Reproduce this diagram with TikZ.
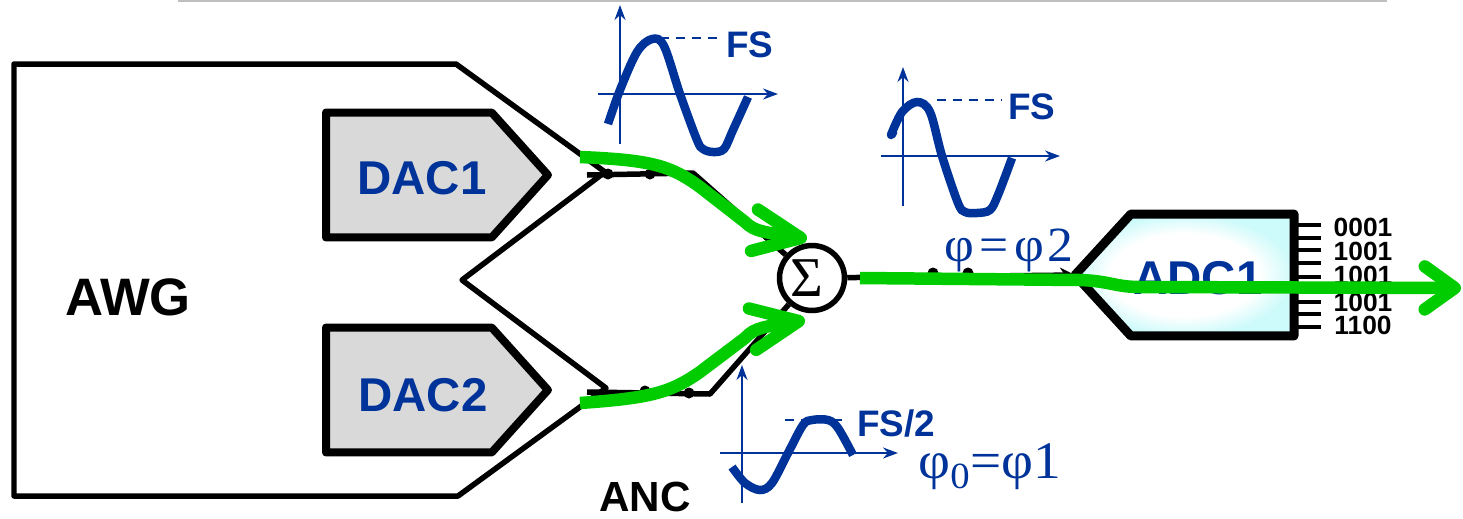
\documentclass[tikz,border=0pt]{standalone}
\usepackage{fontspec}
\setmainfont{Liberation Sans}
\newfontfamily\serifgreek{Liberation Serif}
\newfontfamily\phasefont[FakeStretch=1.05]{Liberation Serif}
\usepackage{xcolor}
\definecolor{ancblue}{RGB}{0,51,153}
\definecolor{ancgreen}{RGB}{0,204,0}
\definecolor{dacgray}{RGB}{217,217,217}
\definecolor{adccyan}{RGB}{205,250,250}
\usetikzlibrary{arrows.meta,shapes.symbols}
\pgfdeclareradialshading{adcglow}{\pgfpointorigin}{color(0bp)=(white); color(17bp)=(white); color(25bp)=(adccyan); color(50bp)=(adccyan)}
\newcommand{\fsz}[1]{\fontsize{#1}{#1}\selectfont}

\begin{document}
\begin{tikzpicture}[
  x=0.02cm,y=-0.02cm,
  wire/.style={line width=0.11cm,line join=round},
  conv/.style={draw,signal,signal to=east,signal pointer angle=96,line width=0.16cm,line join=round,inner sep=0pt,outer sep=0pt,
    minimum width=4.44cm,minimum height=2.5cm,fill=dacgray},
  convtxt/.style={text=ancblue,font=\fsz{27}\bfseries,inner sep=0pt},
  pin/.style={line width=0.08cm},
  bits/.style={font=\fsz{15}\bfseries,inner sep=0pt},
  axisarr/.style={ancblue,line width=0.035cm,-{Stealth[length=0.3cm,width=0.22cm]}},
  wave/.style={ancblue,line width=0.17cm},
  level/.style={ancblue,line width=0.035cm,dash pattern=on 0.18cm off 0.14cm},
  fslabel/.style={text=ancblue,inner sep=0pt},
  phase/.style={text=ancblue,inner sep=0pt},
  dot/.style={circle,fill=black,inner sep=0pt,minimum size=0.22cm},
  sig/.style={ancgreen,line width=0.25cm},
  sigarr/.style={sig,-{Straight Barb[length=0.94cm,width=0.84cm,round]}},
  sigout/.style={sig,-{Straight Barb[length=0.6cm,width=0.86cm,round]}}]
\useasboundingbox (0,0) rectangle (1463,518);
\draw[gray!50,line width=0.07cm] (178,0) -- (1387,0);

\draw[wire] (14,64) -- (456,64) -- (605,172) -- (462,280) -- (606,388) -- (458,496) -- (14,496) -- cycle;
\node[font=\fsz{30}\bfseries,inner sep=0pt] (awg) at (128,297) {AWG};
\node[conv,anchor=west] (dac1) at (326,175) {};
\node[conv,anchor=west] (dac2) at (326,390) {};
\node[convtxt] (dac1txt) at (422,178) {DAC1};
\node[convtxt] (dac2txt) at (423,395) {DAC2};

\node[draw,circle,line width=0.11cm,fill=white,minimum size=1.3cm,inner sep=0pt,font=\serifgreek\fsz{32}] (sum) at (812,278) {Σ\kern 6pt};
\coordinate (in1) at (587,175);
\coordinate (in1b) at (693,173);
\coordinate (in2) at (587,392);
\coordinate (in2b) at (710,394);
\node[dot] (d1) at (608,174) {};
\node[dot] (d2) at (650,174) {};
\node[dot] (d3) at (645,391) {};
\node[dot] (d4) at (689,393) {};
\node[dot] (d5) at (933,273) {};
\node[dot] (d6) at (968,273) {};
\draw[wire] (in1) -- (in1b) -- (sum);
\draw[wire] (in2) -- (in2b) -- (sum);

\node[conv,signal to=west,signal pointer angle=95,line width=0.18cm,anchor=east,minimum width=4.38cm,minimum height=2.44cm,
  shade,shading=adcglow] (adc) at (1294,275) {};
\node[convtxt] (adctxt) at (1198,278) {ADC1};
\draw[wire,-{Stealth[length=0.3cm,width=0.3cm]}] (sum) -- (adc.west);
\foreach \y in {225,238,250,263,277,288,302,314,327}
  \draw[pin] (1296,\y) -- (1321,\y);
\node[bits] (b1) at (1363,227) {0001};
\node[bits] (b2) at (1363,251) {1001};
\node[bits] (b3) at (1363,275) {1001};
\node[bits] (b4) at (1363,302) {1001};
\node[bits] (b5) at (1363,325) {1100};

\coordinate (xa1) at (598,94);
\coordinate (xa2) at (778,94);
\coordinate (ya1) at (620,144);
\coordinate (ya2) at (620,5);
\draw[axisarr] (xa1) -- (xa2);
\draw[axisarr] (ya1) -- (ya2);
\draw[level] (660,38) -- (720,38);
\draw[wave] plot[smooth,tension=0.55] coordinates {(608,124) (620,90) (637,52) (652,39) (664,46) (680,94) (697,140) (703,149) (713,152) (724,149) (733,130) (748,97)};
\node[fslabel,font=\fsz{21}\bfseries] (fs1) at (750,45) {FS};

\coordinate (xb1) at (881,156);
\coordinate (xb2) at (1060,156);
\coordinate (yb1) at (903,206);
\coordinate (yb2) at (903,67);
\draw[axisarr] (xb1) -- (xb2);
\draw[axisarr] (yb1) -- (yb2);
\draw[level] (937,100) -- (1002,100);
\draw[wave,line cap=round] (891,135) -- (893,133);
\draw[wave] plot[smooth,tension=0.55] coordinates {(891,135) (902,112) (917,102) (930,112) (942,156) (958,203) (965,212) (977,213) (990,210) (998,195) (1012,158)};
\node[fslabel,font=\fsz{21}\bfseries] (fs2) at (1032,107) {FS};

\coordinate (xc1) at (720,453);
\coordinate (xc2) at (898,453);
\coordinate (yc1) at (742,503);
\coordinate (yc2) at (742,365);
\draw[axisarr] (xc1) -- (xc2);
\draw[axisarr] (yc1) -- (yc2);
\draw[level] (785,420) -- (848,420);
\draw[wave] plot[smooth,tension=0.55] coordinates {(732,467) (745,483) (760,490) (772,483) (788,453) (803,425) (812,420) (828,420) (838,428) (853,455)};
\node[fslabel,font=\fsz{21}\bfseries] (fs3) at (896,423) {FS/2};

\node[phase,font=\phasefont\fsz{28}] (phi2) at (1009,250) {φ\kern 3pt=\kern 3ptφ\kern 2pt2};
\node[phase,font=\phasefont\fsz{30}] (phi1) at (990,467) {φ\textsubscript{0}=φ1};
\node[font=\fsz{24}\bfseries,inner sep=0pt] (anc) at (645,497) {ANC};

\coordinate (g1) at (580,157);
\coordinate (g2) at (580,403);
\coordinate (g3) at (860,278);
\coordinate (gend) at (1461,288);
\draw[sigarr] (g1) .. controls (650,160) and (670,165) .. (700,187) -- (745,222) .. controls (755,232) and (765,232) .. (807,239);
\draw[sigarr] (g2) .. controls (650,398) and (670,393) .. (700,372) -- (745,338) .. controls (755,327) and (765,327) .. (805,320);
\draw[sigout] (g3) -- (1080,280) .. controls (1110,281) and (1115,287) .. (1140,287) -- (gend);
\end{tikzpicture}
\end{document}
